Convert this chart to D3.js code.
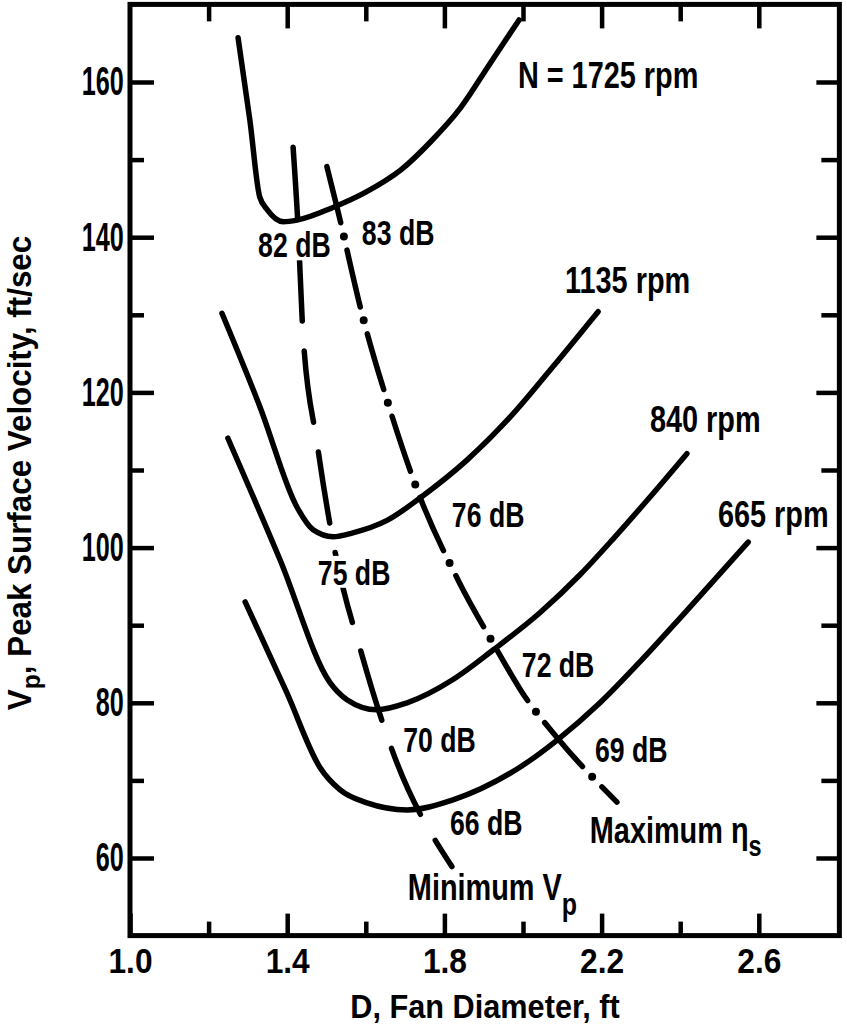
<!DOCTYPE html>
<html>
<head>
<meta charset="utf-8">
<script src="https://cdn.jsdelivr.net/npm/d3@7"></script>
<style>
  body { margin: 0; background: #fff; }
  text { fill: #000; font-weight: bold; font-family: "Liberation Sans", Arial, sans-serif; }
</style>
</head>
<body>
<svg id="chart"></svg>
<script>
// ---- data (D in ft, Vp in ft/sec) ----
var d1725 = [1.275, 1.305, 1.33, 1.35, 1.39, 1.425, 1.515, 1.60, 1.69, 1.765, 1.84, 1.915, 1.99];
var v1725 = [165.7, 155.1, 145.2, 143.5, 142.0, 142.2, 143.8, 145.8, 148.7, 152.3, 156.6, 162.3, 168.0];

var d1135 = [1.234, 1.331, 1.425, 1.466, 1.517, 1.567, 1.654, 1.738, 1.858, 1.967, 2.076, 2.191];
var v1135 = [130.2, 118.1, 105.2, 102.3, 101.4, 101.9, 103.5, 106.4, 111.3, 116.8, 123.3, 130.4];

var d840 = [1.249, 1.382, 1.509, 1.552, 1.628, 1.705, 1.822, 1.924, 2.043, 2.145, 2.229, 2.316, 2.417];
var v840 = [114.1, 98.4, 82.6, 80.4, 79.1, 80.0, 83.0, 86.8, 91.6, 96.5, 101.1, 106.1, 112.1];

var d665 = [1.293, 1.399, 1.483, 1.534, 1.603, 1.705, 1.822, 1.992, 2.087, 2.196, 2.298, 2.410, 2.573];
var v665 = [93.0, 81.3, 71.7, 68.8, 67.1, 66.2, 67.5, 71.7, 75.2, 80.0, 85.3, 91.5, 100.7];

// locus of minimum Vp (dashed) and maximum static efficiency (dash-dot)
var dMinVp = [1.415, 1.427, 1.440, 1.476, 1.522, 1.590, 1.667, 1.819];
var vMinVp = [151.6, 141.9, 127.7, 113.5, 99.4, 86.2, 73.9, 58.9];

var dMaxEff = [1.501, 1.527, 1.593, 1.654, 1.738, 1.835, 1.934, 1.997, 2.087, 2.239];
var vMaxEff = [149.1, 143.8, 129.6, 119.0, 106.5, 95.8, 86.8, 81.4, 75.5, 67.2];

// labels
var speedLabels = ["N = 1725 rpm", "1135 rpm", "840 rpm", "665 rpm"];
var speedLabelD = [1.987, 2.107, 2.323, 2.496];
var speedLabelV = [159.2, 132.8, 114.9, 102.7];

var minVpLabels = ["82 dB", "75 dB", "70 dB", "66 dB"];
var minVpLabelD = [1.326, 1.478, 1.695, 1.814];
var minVpLabelV = [137.4, 95.2, 73.7, 63.0];

var maxEffLabels = ["83 dB", "76 dB", "72 dB", "69 dB"];
var maxEffLabelD = [1.590, 1.819, 1.997, 2.183];
var maxEffLabelV = [139.0, 102.7, 83.3, 72.4];

var xMajor = [1.0, 1.4, 1.8, 2.2, 2.6];
var xMinor = [1.2, 1.6, 2.0, 2.4];
var yMajor = [60, 80, 100, 120, 140, 160];
var yMinor = [70, 90, 110, 130, 150];

// ---- layout ----
var width = 847, height = 1028;

var x = d3.scaleLinear().domain([1.0, 2.805]).range([130, 130 + 1.805 * 393]);
var y = d3.scaleLinear().domain([50, 170]).range([935.6, 4.4]);

var svg = d3.select("#chart")
    .attr("width", width)
    .attr("height", height);

// frame
svg.append("rect")
    .attr("x", x(1.0))
    .attr("y", y(170))
    .attr("width", x(2.805) - x(1.0))
    .attr("height", y(50) - y(170))
    .attr("fill", "none")
    .attr("stroke", "#000")
    .attr("stroke-width", 5);

// the lettering of the original is a tall, condensed bold face
function styleAxis(size, sx) {
    return function (g) {
        g.select(".domain").remove();
        g.selectAll(".tick line").attr("stroke", "#000").attr("stroke-width", 4.5);
        g.selectAll(".tick text")
            .attr("fill", "#000")
            .attr("transform", "scale(" + sx + ",1)")
            .style("font-size", size + "px")
            .style("font-weight", "bold")
            .style("font-family", '"Liberation Sans", Arial, sans-serif');
    };
}

// bottom axis, ticks pointing inward
svg.append("g")
    .attr("transform", "translate(0," + y(50) + ")")
    .call(d3.axisBottom(x).tickValues(xMajor).tickSize(-22).tickPadding(12).tickFormat(d3.format(".1f")))
    .call(styleAxis(36, 0.88));
svg.append("g")
    .attr("transform", "translate(0," + y(50) + ")")
    .call(d3.axisBottom(x).tickValues(xMinor).tickSize(-14).tickFormat(""))
    .call(styleAxis(36, 1));

// top axis
svg.append("g")
    .attr("transform", "translate(0," + y(170) + ")")
    .call(d3.axisTop(x).tickValues(xMajor.slice(1)).tickSize(-24).tickFormat(""))
    .call(styleAxis(36, 1));
svg.append("g")
    .attr("transform", "translate(0," + y(170) + ")")
    .call(d3.axisTop(x).tickValues(xMinor).tickSize(-17).tickFormat(""))
    .call(styleAxis(36, 1));

// left axis
svg.append("g")
    .attr("transform", "translate(" + x(1.0) + ",0)")
    .call(d3.axisLeft(y).tickValues(yMajor).tickSize(-24).tickPadding(10))
    .call(styleAxis(40, 0.63));
svg.append("g")
    .attr("transform", "translate(" + x(1.0) + ",0)")
    .call(d3.axisLeft(y).tickValues(yMinor).tickSize(-14).tickFormat(""))
    .call(styleAxis(40, 1));

// right axis
svg.append("g")
    .attr("transform", "translate(" + x(2.805) + ",0)")
    .call(d3.axisRight(y).tickValues(yMajor).tickSize(-23).tickFormat(""))
    .call(styleAxis(36, 1));
svg.append("g")
    .attr("transform", "translate(" + x(2.805) + ",0)")
    .call(d3.axisRight(y).tickValues(yMinor).tickSize(-18).tickFormat(""))
    .call(styleAxis(36, 1));

// axis titles
var yTitle = svg.append("text")
    .attr("transform", "translate(31,473) rotate(-90) scale(0.95,1)")
    .attr("text-anchor", "middle")
    .style("font-size", "33px");
yTitle.append("tspan").text("V");
yTitle.append("tspan").attr("dy", 9).style("font-size", "26px").text("p");
yTitle.append("tspan").attr("dy", -9).text(", Peak Surface Velocity, ft/sec");

svg.append("text")
    .attr("transform", "translate(485,1018) scale(0.93,1)")
    .attr("text-anchor", "middle")
    .style("font-size", "33px")
    .text("D, Fan Diameter, ft");

// ---- curves ----
var line = d3.line()
    .x(function (d) { return x(d[0]); })
    .y(function (d) { return y(d[1]); })
    .curve(d3.curveMonotoneX);

function pairs(ds, vs) {
    return ds.map(function (d, i) { return [d, vs[i]]; });
}

var speedCurves = [pairs(d1725, v1725), pairs(d1135, v1135), pairs(d840, v840), pairs(d665, v665)];

svg.selectAll(".speed")
    .data(speedCurves)
    .enter().append("path")
    .attr("class", "speed")
    .attr("d", line)
    .attr("fill", "none")
    .attr("stroke", "#000")
    .attr("stroke-width", 5.5)
    .attr("stroke-linecap", "round");

svg.append("path")
    .attr("d", line(pairs(dMinVp, vMinVp)))
    .attr("fill", "none")
    .attr("stroke", "#000")
    .attr("stroke-width", 5.5)
    .attr("stroke-linecap", "round")
    .attr("stroke-dasharray", "72,30");

// dash-dot: dashes on one pass, heavier dots on a second pass
var effPath = line(pairs(dMaxEff, vMaxEff));
svg.append("path")
    .attr("d", effPath)
    .attr("fill", "none")
    .attr("stroke", "#000")
    .attr("stroke-width", 5.5)
    .attr("stroke-linecap", "round")
    .attr("stroke-dasharray", "58,28");
svg.append("path")
    .attr("d", effPath)
    .attr("fill", "none")
    .attr("stroke", "#000")
    .attr("stroke-width", 8)
    .attr("stroke-linecap", "round")
    .attr("stroke-dasharray", "0,86")
    .attr("stroke-dashoffset", -72);

// ---- labels ----
function addLabels(texts, ds, vs, size, sx, knockout) {
    texts.forEach(function (t, i) {
        var g = svg.append("g")
            .attr("transform", "translate(" + x(ds[i]) + "," + y(vs[i]) + ") scale(" + sx + ",1)");
        var bg = g.append("rect").attr("fill", "#fff");
        var txt = g.append("text")
            .style("font-size", size + "px")
            .text(t);
        if (knockout) {
            var b = txt.node().getBBox();
            bg.attr("x", b.x - 2).attr("y", b.y + 4)
              .attr("width", b.width + 4).attr("height", b.height - 9);
        } else {
            bg.remove();
        }
    });
}

addLabels(speedLabels, speedLabelD, speedLabelV, 37, 0.78, false);
addLabels(minVpLabels, minVpLabelD, minVpLabelV, 36, 0.74, true);
addLabels(maxEffLabels, maxEffLabelD, maxEffLabelV, 36, 0.74, true);

// locus names with subscripts
var maxName = svg.append("text")
    .attr("transform", "translate(" + x(2.170) + "," + y(61.9) + ") scale(0.78,1)")
    .style("font-size", "37px");
maxName.append("tspan").text("Maximum ");
maxName.append("tspan").text("\u03b7");
maxName.append("tspan").attr("dy", 13).style("font-size", "30px").text("s");

var minName = svg.append("text")
    .attr("transform", "translate(" + x(1.707) + "," + y(54.6) + ") scale(0.78,1)")
    .style("font-size", "37px");
minName.append("tspan").text("Minimum V");
minName.append("tspan").attr("dy", 15).style("font-size", "32px").text("p");
</script>
</body>
</html>
